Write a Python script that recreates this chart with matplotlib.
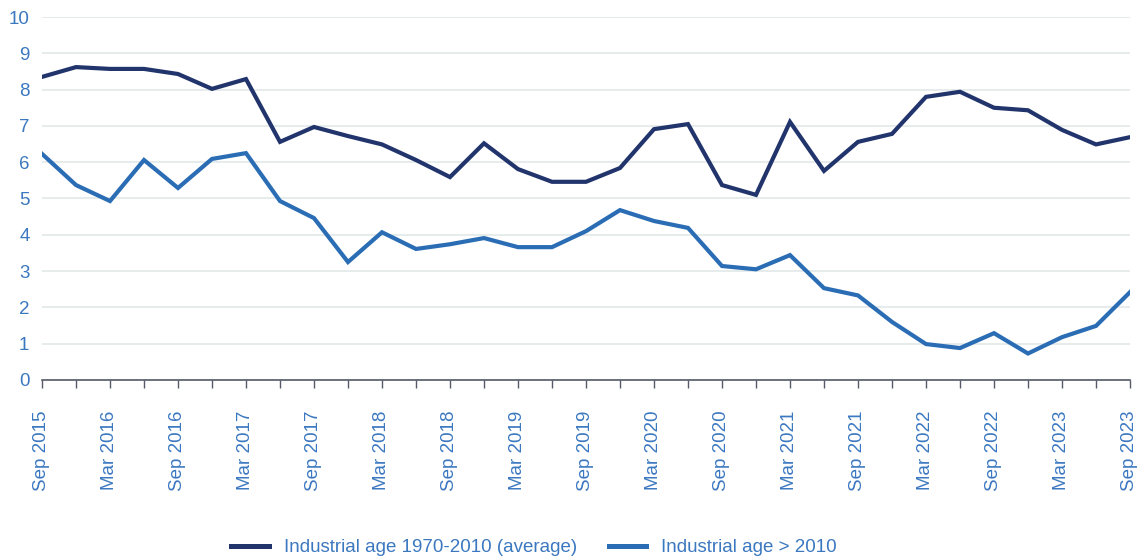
import matplotlib.pyplot as plt

# quarterly observations, Sep 2015 .. Sep 2023
age_1970_2010 = [8.35, 8.62, 8.57, 8.57, 8.43, 8.02, 8.29, 6.56, 6.97, 6.72,
                 6.49, 6.06, 5.59, 6.52, 5.81, 5.46, 5.46, 5.84, 6.91, 7.05,
                 5.37, 5.10, 7.11, 5.76, 6.56, 6.78, 7.80, 7.94, 7.50, 7.43,
                 6.89, 6.49, 6.69]
age_after_2010 = [6.23, 5.37, 4.93, 6.06, 5.29, 6.09, 6.25, 4.93, 4.46, 3.25,
                  4.07, 3.61, 3.74, 3.91, 3.66, 3.66, 4.10, 4.68, 4.38, 4.19,
                  3.14, 3.05, 3.44, 2.53, 2.33, 1.60, 0.99, 0.88, 1.29, 0.73,
                  1.18, 1.49, 2.42]
tick_labels = ["Sep 2015", "Mar 2016", "Sep 2016", "Mar 2017", "Sep 2017",
               "Mar 2018", "Sep 2018", "Mar 2019", "Sep 2019", "Mar 2020",
               "Sep 2020", "Mar 2021", "Sep 2021", "Mar 2022", "Sep 2022",
               "Mar 2023", "Sep 2023"]

plt.rcParams['font.family'] = ['Liberation Sans', 'DejaVu Sans']
text_col = "#3b78c0"
dark = "#22346c"
light = "#2a6db4"

fig = plt.figure(figsize=(11.44, 5.6), dpi=100)
ax = fig.add_axes([42 / 1144, 1 - 380 / 560, (1130 - 42) / 1144, (380 - 17) / 560])

x = list(range(len(age_1970_2010)))
ax.plot(x, age_1970_2010, color=dark, lw=3, label="Industrial age 1970-2010 (average)",
        solid_joinstyle="miter", zorder=3)
ax.plot(x, age_after_2010, color=light, lw=3, label="Industrial age > 2010",
        solid_joinstyle="miter", zorder=3)

ax.set_xlim(0, len(x) - 1)
ax.set_ylim(0, 10)
ax.set_yticks(range(0, 11))
ax.grid(axis="y", color="#e1e7e7", lw=1.2)
ax.set_axisbelow(True)
for s in ["top", "right", "left"]:
    ax.spines[s].set_visible(False)
ax.spines["bottom"].set_color("#555a66")
ax.spines["bottom"].set_linewidth(1.2)

ax.set_xticks(x)
ax.set_xticklabels([tick_labels[i // 2] if i % 2 == 0 else "" for i in x],
                   rotation=90, color=text_col, fontsize=13.5)
ax.tick_params(axis="x", length=6, width=1.0, color="#555a66", pad=16)
ax.tick_params(axis="y", length=0, pad=9, labelcolor=text_col, labelsize=13.5)

leg = fig.legend(loc="center", bbox_to_anchor=(534 / 1144, 0.022), ncol=2, frameon=False,
                 fontsize=13.5, labelcolor=text_col, handlelength=2.0, columnspacing=1.7,
                 handletextpad=0.8)
for h in leg.get_lines():
    h.set_linewidth(3.6)

fig.savefig("out.png", dpi=100)
